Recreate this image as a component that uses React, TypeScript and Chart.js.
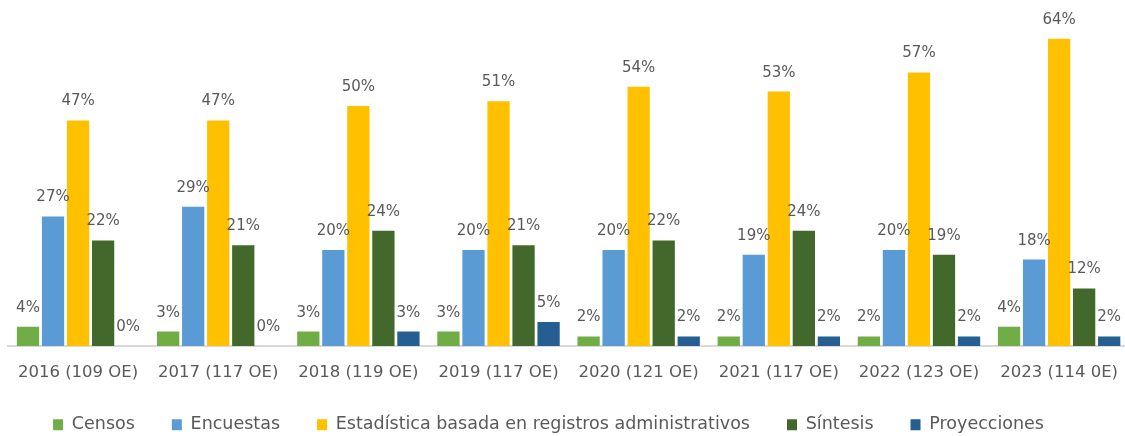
import React, { useEffect, useRef } from "react";
import { Chart, registerables } from "chart.js";

Chart.register(...registerables);

const categories = [
  "2016 (109 OE)",
  "2017 (117 OE)",
  "2018 (119 OE)",
  "2019 (117 OE)",
  "2020 (121 OE)",
  "2021 (117 OE)",
  "2022 (123 OE)",
  "2023 (114 0E)",
];

const censos = [4, 3, 3, 3, 2, 2, 2, 4];
const encuestas = [27, 29, 20, 20, 20, 19, 20, 18];
const registros = [47, 47, 50, 51, 54, 53, 57, 64];
const sintesis = [22, 21, 24, 21, 22, 24, 19, 12];
const proyecciones = [0, 0, 3, 5, 2, 2, 2, 2];

const seriesNames = [
  "Censos",
  "Encuestas",
  "Estadística basada en registros administrativos",
  "Síntesis",
  "Proyecciones",
];
const seriesColors = ["#70AD47", "#5B9BD5", "#FFC000", "#43682B", "#255E91"];

const FONT = "'DejaVu Sans', sans-serif";
const TEXT = "#595959";
const SHIFT = 38; // canvas shifted left so the legend centre matches
const CANVAS_W = 1135 + SHIFT;
const CANVAS_H = 441;

const labelPlugin = {
  id: "barValueLabels",
  afterLayout(chart: any) {
    const s = chart.scales.x;
    s.bottom = s.top + 45;
  },
  afterDatasetsDraw(chart: any) {
    const ctx = chart.ctx;
    ctx.save();
    ctx.font = `15px ${FONT}`;
    ctx.fillStyle = TEXT;
    ctx.textAlign = "center";
    ctx.textBaseline = "alphabetic";
    chart.data.datasets.forEach((ds: any, i: number) => {
      const meta = chart.getDatasetMeta(i);
      meta.data.forEach((bar: any, j: number) => {
        ctx.fillText(`${ds.data[j]}%`, bar.x, bar.y - 15);
      });
    });
    ctx.restore();
  },
};

export default function App() {
  const ref = useRef<HTMLCanvasElement | null>(null);

  useEffect(() => {
    document.body.style.margin = "0";
    const canvas = ref.current!;
    const datasets = [censos, encuestas, registros, sintesis, proyecciones].map(
      (d, i) => ({
        label: seriesNames[i],
        data: d,
        backgroundColor: seriesColors[i],
        borderWidth: 0,
        barPercentage: 0.89,
        categoryPercentage: 0.893,
      })
    );
    const chart = new Chart(canvas, {
      type: "bar",
      data: { labels: categories, datasets },
      options: {
        animation: false,
        responsive: false,
        maintainAspectRatio: false,
        layout: { padding: { top: 10, left: 0, right: 0, bottom: 0 } },
        plugins: {
          tooltip: { enabled: false },
          legend: {
            position: "bottom",
            align: "center",
            maxHeight: 62,
            labels: {
              boxWidth: 10,
              boxHeight: 11,
              padding: 37,
              color: TEXT,
              font: { family: FONT, size: 17.5 },
              generateLabels: (c: any) =>
                Chart.defaults.plugins.legend.labels
                  .generateLabels(c)
                  .map((l: any) => ({ ...l, lineWidth: 0 })),
            },
          },
        },
        scales: {
          x: {
            grid: { display: false, drawTicks: false },
            border: { display: true, color: "#D9D9D9", width: 2 },
            ticks: {
              color: TEXT,
              padding: 17,
              maxRotation: 0,
              autoSkip: false,
              font: { family: FONT, size: 16.5 },
            },
            afterFit: (s: any) => {
              s.height = 33;
            },
          },
          y: {
            min: 0,
            max: 70,
            grid: { display: false, drawTicks: false },
            border: { display: false },
            ticks: { display: false },
            afterFit: (s: any) => {
              s.width = 8 + SHIFT;
            },
          },
        },
      },
      plugins: [labelPlugin],
    });
    return () => chart.destroy();
  }, []);

  return (
    <div
      style={{
        position: "fixed",
        left: 0,
        top: 0,
        width: 1125,
        height: 436,
        overflow: "hidden",
        background: "#fff",
      }}
    >
      <canvas
        ref={ref}
        width={CANVAS_W}
        height={CANVAS_H}
        style={{ position: "absolute", left: -SHIFT, top: 0, width: CANVAS_W, height: CANVAS_H }}
      />
    </div>
  );
}
